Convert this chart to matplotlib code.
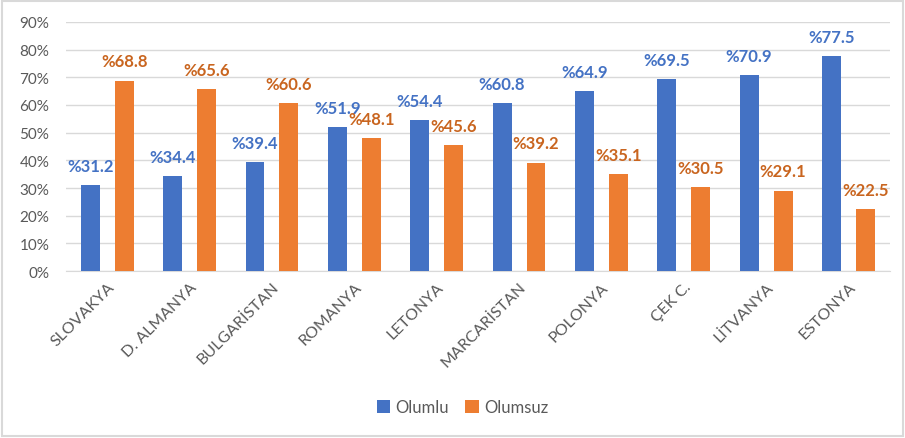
import matplotlib
matplotlib.use("Agg")
import matplotlib.pyplot as plt
import numpy as np
from matplotlib.patches import Rectangle

countries = ["SLOVAKYA", "D. ALMANYA", "BULGARİSTAN", "ROMANYA", "LETONYA",
             "MARCARİSTAN", "POLONYA", "ÇEK C.", "LİTVANYA", "ESTONYA"]
olumlu = [31.2, 34.4, 39.4, 51.9, 54.4, 60.8, 64.9, 69.5, 70.9, 77.5]
olumsuz = [68.8, 65.6, 60.6, 48.1, 45.6, 39.2, 35.1, 30.5, 29.1, 22.5]
yticks = [0, 10, 20, 30, 40, 50, 60, 70, 80, 90]

plt.rcParams['font.family'] = ['Lato', 'DejaVu Sans']

blue = "#4472C4"
orange = "#ED7D31"
blue_lbl = "#4472C4"
orange_lbl = "#C9651F"

fig = plt.figure(figsize=(9.05, 4.39), dpi=100)
ax = fig.add_axes([0.073, 0.380, 0.910, 0.568])

x = np.arange(len(countries))
w = 0.23
off = 0.206
b1 = ax.bar(x - off, olumlu, w, color=blue, label="Olumlu", zorder=3)
b2 = ax.bar(x + off, olumsuz, w, color=orange, label="Olumsuz", zorder=3)

for rect, v in zip(b1, olumlu):
    ax.annotate(f"%{v}", (rect.get_x() + rect.get_width() / 2, v), xytext=(0, 8),
                textcoords="offset points", ha="center", va="bottom",
                color=blue_lbl, fontsize=12, fontweight="bold")
for rect, v in zip(b2, olumsuz):
    ax.annotate(f"%{v}", (rect.get_x() + rect.get_width() / 2, v), xytext=(0, 8),
                textcoords="offset points", ha="center", va="bottom",
                color=orange_lbl, fontsize=12, fontweight="bold")

ax.set_xlim(-0.5, len(countries) - 0.5)
ax.set_ylim(0, 90)
ax.set_yticks(yticks)
ax.set_yticklabels([f"{t}%" for t in yticks], color="#595959", fontsize=11)
ax.yaxis.grid(True, color="#D9D9D9", linewidth=1, zorder=0)
ax.tick_params(axis="y", length=0, pad=12)
ax.tick_params(axis="x", length=0, pad=6)
ax.set_xticks(x)
ax.set_xticklabels(countries, rotation=45, ha="right", rotation_mode="anchor",
                   color="#595959", fontsize=11.5)
for s in ["top", "right", "left"]:
    ax.spines[s].set_visible(False)
ax.spines["bottom"].set_color("#D9D9D9")

leg = fig.legend(handles=[b1, b2], labels=["Olumlu", "Olumsuz"], loc="center",
                 bbox_to_anchor=(0.511, 0.07), ncol=2, frameon=False,
                 fontsize=12, handlelength=0.8, handleheight=0.8,
                 handletextpad=0.3, columnspacing=1.0)
for t in leg.get_texts():
    t.set_color("#595959")

fig.patches.append(Rectangle((0.002, 0.004), 0.996, 0.992, transform=fig.transFigure,
                             fill=False, edgecolor="#D9D9D9", linewidth=1.5))

fig.savefig("out.png", dpi=100)
